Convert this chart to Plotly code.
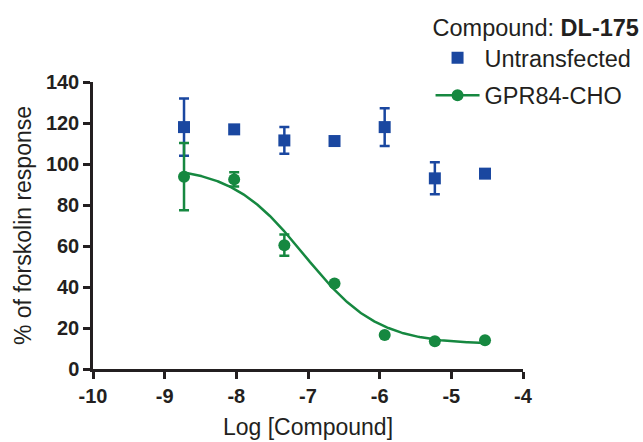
import numpy as np
import plotly.graph_objects as go

# log10 molar concentrations tested
log_conc = [-8.73, -8.03, -7.33, -6.63, -5.93, -5.23, -4.53]

# Untransfected cells: mean and SEM (% of forskolin response)
untrans_mean = [118.0, 116.9, 111.5, 111.2, 118.0, 93.0, 95.3]
untrans_sem = [14.0, 0.0, 6.5, 0.0, 9.2, 7.8, 0.0]

# GPR84-CHO cells: mean and SEM
gpr84_mean = [93.8, 92.5, 60.4, 41.7, 16.6, 13.5, 14.0]
gpr84_sem = [16.4, 3.5, 5.2, 0.0, 0.0, 0.0, 0.0]

# four-parameter logistic fit for GPR84-CHO
fit_top = 99.0
fit_bottom = 12.0
fit_log_ic50 = -7.05
fit_hill = 0.85

x_ticks = [-10, -9, -8, -7, -6, -5, -4]
x_tick_text = ["-10", "-9", "-8", "-7", "-6", "-5", "-4"]
y_ticks = [0, 20, 40, 60, 80, 100, 120, 140]

BLUE = "#1a47a0"
GREEN = "#168840"
INK = "#231f20"
FONT = "Liberation Sans, Arial, sans-serif"

x_fit = np.linspace(min(log_conc), max(log_conc), 300)
y_fit = fit_bottom + (fit_top - fit_bottom) / (1 + 10 ** ((x_fit - fit_log_ic50) * fit_hill))

fig = go.Figure()

fig.add_trace(go.Scatter(
    x=log_conc, y=untrans_mean, mode="markers", name="Untransfected",
    marker=dict(symbol="square", size=12, color=BLUE),
    error_y=dict(type="data", array=untrans_sem, visible=True,
                 color=BLUE, thickness=2.5, width=5),
    legendgroup="a",
))

# fitted curve
fig.add_trace(go.Scatter(
    x=x_fit, y=y_fit, mode="lines", line=dict(color=GREEN, width=2.5),
    showlegend=False, hoverinfo="skip", legendgroup="b",
))

fig.add_trace(go.Scatter(
    x=log_conc, y=gpr84_mean, mode="markers",
    marker=dict(symbol="circle", size=12, color=GREEN),
    error_y=dict(type="data", array=gpr84_sem, visible=True,
                 color=GREEN, thickness=2.5, width=5),
    showlegend=False, legendgroup="b",
))

# legend key for the GPR84 series: line through a dot
fig.add_trace(go.Scatter(
    x=[None], y=[None], mode="lines+markers", name="GPR84-CHO",
    line=dict(color=GREEN, width=2.5),
    marker=dict(symbol="circle", size=12, color=GREEN),
    legendgroup="b",
))

axis_common = dict(
    showgrid=False, zeroline=False, showline=True, linecolor=INK, linewidth=2.5,
    ticks="outside", ticklen=7, tickwidth=2.5, tickcolor=INK,
    tickfont=dict(family=FONT, size=20, color=INK, weight="bold"),
)

fig.update_layout(
    width=643, height=442,
    margin=dict(l=93, r=120, t=82, b=73, autoexpand=False),
    paper_bgcolor="white", plot_bgcolor="white",
    font=dict(family=FONT, color=INK),
    xaxis=dict(range=[-10, -4], tickvals=x_ticks, ticktext=x_tick_text,
               title=dict(text="Log [Compound]", font=dict(size=23, family=FONT, color=INK),
                          standoff=14),
               **axis_common),
    yaxis=dict(range=[0, 140], tickvals=y_ticks,
               title=dict(text="% of forskolin response",
                          font=dict(size=23, family=FONT, color=INK), standoff=8),
               **axis_common),
    legend=dict(
        x=0.785, y=1.267, xanchor="left", yanchor="top",
        bgcolor="rgba(0,0,0,0)", tracegroupgap=4,
        font=dict(size=23.5, family=FONT, color=INK),
        title=dict(text="Compound: <b>DL-175</b>", font=dict(size=23.5, family=FONT, color=INK)),
        itemwidth=44,
    ),
    showlegend=True,
)

fig.write_html("out.html")
